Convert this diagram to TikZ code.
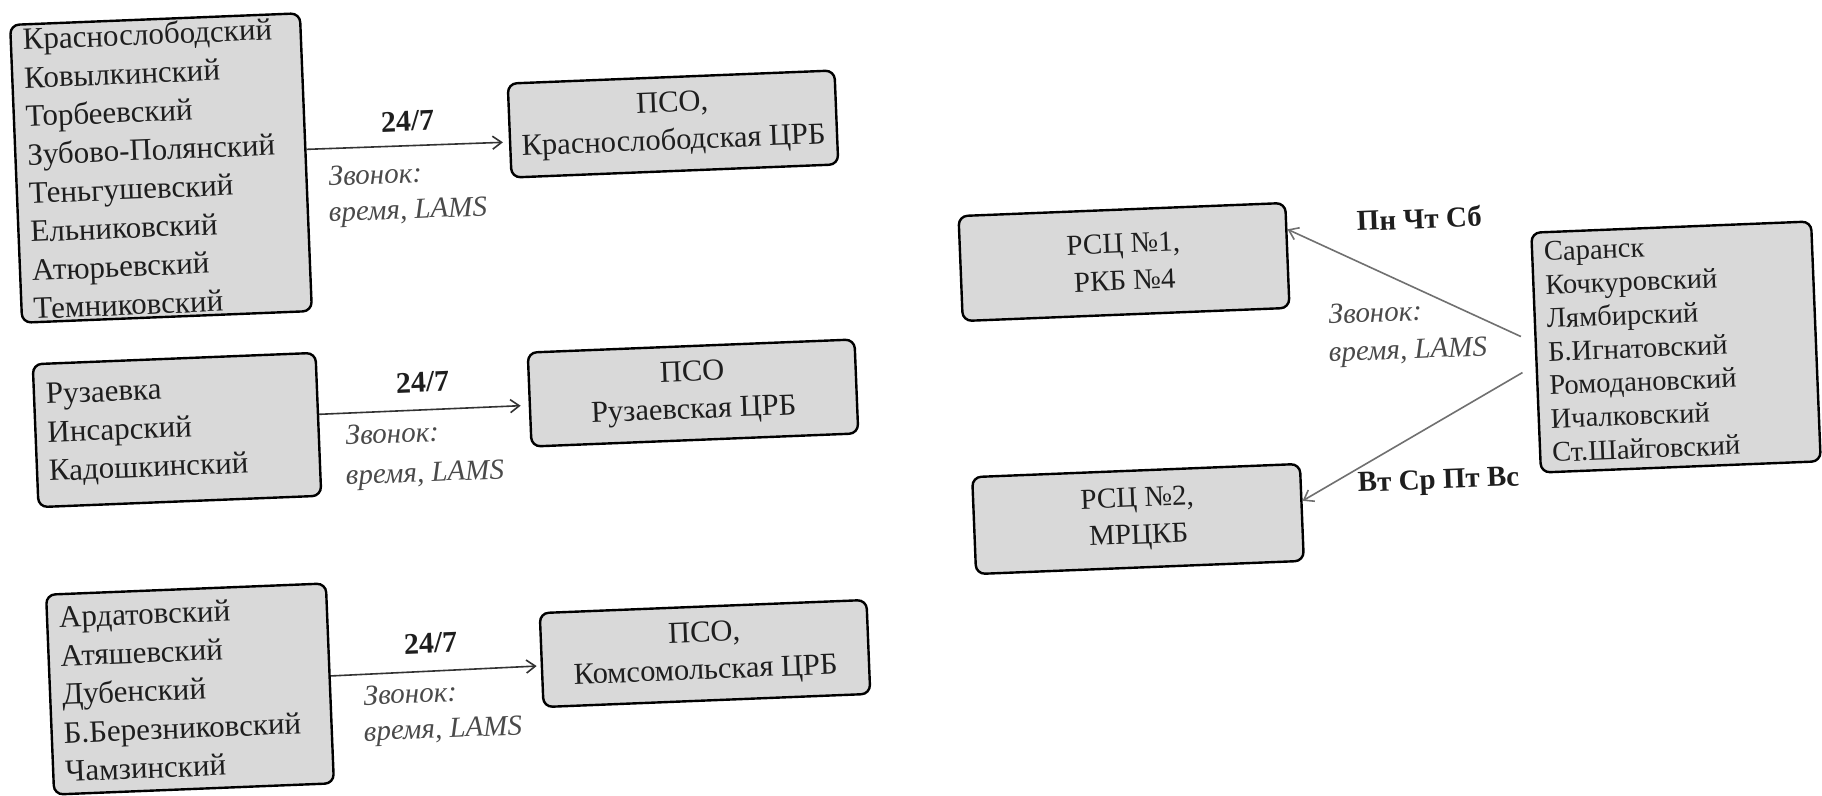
\documentclass[tikz,border=0pt]{standalone}
\usepackage{fontspec}
\setmainfont{Liberation Serif}
\usetikzlibrary{arrows.meta}
\definecolor{boxgray}{HTML}{D9D9D9}
\definecolor{ink}{HTML}{1E1E1E}
\definecolor{labgray}{HTML}{4A4A4A}
\definecolor{arrgray}{HTML}{707070}
\newcommand\fsL{\fontsize{31}{38.5}\selectfont}
\newcommand\fsP{\fontsize{30.5}{37.5}\selectfont}
\newcommand\fsR{\fontsize{29}{37}\selectfont}
\newcommand\fsS{\fontsize{28.5}{33.5}\selectfont}
\newcommand\fsI{\fontsize{29}{32}\selectfont}
\newcommand\fsB{\fontsize{30}{32}\selectfont}
\newcommand\fsBR{\fontsize{29}{32}\selectfont}
\begin{document}
\begin{tikzpicture}[x=1pt,y=-1pt,
  tilt/.style={rotate=2.3},
  boxbase/.style={draw=black, line width=2.4pt, rounded corners=9pt, fill=boxgray, tilt, text=ink},
  listbox/.style={boxbase, inner xsep=12pt, inner ysep=0pt, align=left, font=\fsL},
  hospbox/.style={boxbase, minimum width=327pt, minimum height=94pt, align=center, font=\fsP, inner sep=0pt},
  rscbox/.style={boxbase, align=center, font=\fsR, inner sep=0pt},
  daylab/.style={font=\fsB\bfseries, text=ink, tilt, inner sep=0pt},
  daylabr/.style={font=\fsBR\bfseries, text=ink, tilt, inner sep=0pt},
  calllab/.style={font=\fsI\itshape, text=labgray, tilt, inner sep=0pt},
  arr/.style={-{Straight Barb[length=9pt,width=13pt]}, line width=1.6pt, draw=black!80},
  arrg/.style={arr, draw=arrgray}
]
\fill[white] (0,0) rectangle (1822,795);
\useasboundingbox (0,0) rectangle (1822,795);

% left column
\node[listbox, text width=266pt, minimum height=298pt] (b1) at (161,168)
  {Краснослободский\\Ковылкинский\\Торбеевский\\Зубово-Полянский\\Теньгушевский\\Ельниковский\\Атюрьевский\\Темниковский};
\node[listbox, text width=259pt, minimum height=143pt] (b2) at (177,430)
  {Рузаевка\\Инсарский\\Кадошкинский};
\node[listbox, text width=256pt, minimum height=200pt] (b3) at (190,689)
  {Ардатовский\\Атяшевский\\Дубенский\\Б.Березниковский\\Чамзинский};

% hospitals
\node[hospbox] (p1) at (673,124) {ПСО,\\Краснослободская ЦРБ};
\node[hospbox] (p2) at (693,393) {ПСО\\Рузаевская ЦРБ};
\node[hospbox] (p3) at (705,653.5) {ПСО,\\Комсомольская ЦРБ};

% right side
\node[rscbox, minimum width=327pt, minimum height=105pt] (r1) at (1124,262) {РСЦ №1,\\РКБ №4};
\node[rscbox, minimum width=328pt, minimum height=97pt] (r2) at (1138,519) {РСЦ №2,\\МРЦКБ};
\node[listbox, font=\fsS, text width=256pt, minimum height=240pt] (sar) at (1676,347)
  {Саранск\\Кочкуровский\\Лямбирский\\Б.Игнатовский\\Ромодановский\\Ичалковский\\Ст.Шайговский};

% labels left
\node[daylab, anchor=base] (t1) at (408,131) {24/7};
\node[daylab, anchor=base] (t2) at (423,392) {24/7};
\node[daylab, anchor=base] (t3) at (431,653) {24/7};
\node[calllab, anchor=base west] (c1) at (329,186) {Звонок:};
\node[calllab, anchor=base west] (v1) at (329,222) {время, LAMS};
\node[calllab, anchor=base west] (c2) at (346,445) {Звонок:};
\node[calllab, anchor=base west] (v2) at (346,485) {время, LAMS};
\node[calllab, anchor=base west] (c3) at (364,705) {Звонок:};
\node[calllab, anchor=base west] (v3) at (364,741) {время, LAMS};

% labels right
\node[daylabr, anchor=base west] (d1) at (1357,231) {Пн Чт Сб};
\node[calllab, anchor=base west] (c4) at (1329,324) {Звонок:};
\node[calllab, anchor=base west] (v4) at (1329,362) {время, LAMS};
\node[daylabr, anchor=base west] (d2) at (1358,492) {Вт Ср Пт Вс};

% connectors
\draw[arr, shorten >=6pt] (b1.5) -- (p1.184);
\draw[arr, shorten >=8pt] (b2.4) -- (p2.182);
\draw[arr, shorten >=4pt] (b3.3) -- (p3.182);
\draw[arrg, shorten <=15pt] (sar.176) -- (r1.9);
\draw[arrg, shorten <=15pt] (sar.185) -- (r2.4);
\end{tikzpicture}
\end{document}
